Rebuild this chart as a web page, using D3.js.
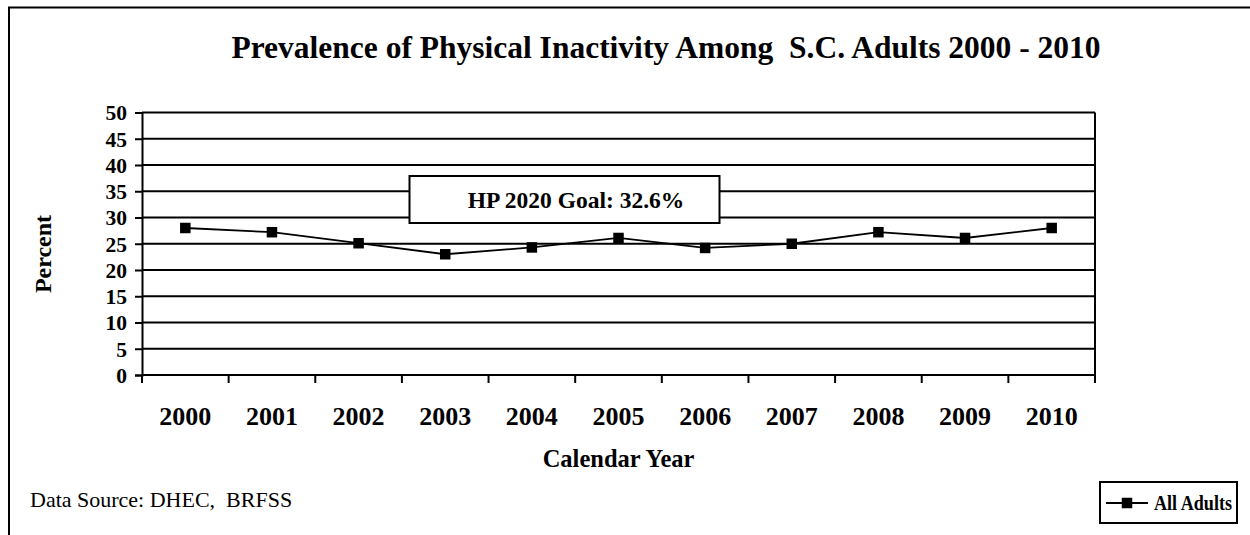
<!DOCTYPE html>
<html>
<head>
<meta charset="utf-8">
<script src="https://cdn.jsdelivr.net/npm/d3@7"></script>
<style>
  html, body { margin: 0; padding: 0; background: #fff; }
  svg { display: block; }
  text { font-family: "Liberation Serif", "Times New Roman", serif; fill: #000; }
</style>
</head>
<body>
<script>
// Physical inactivity among South Carolina adults, BRFSS
const years = ["2000", "2001", "2002", "2003", "2004", "2005", "2006", "2007", "2008", "2009", "2010"];
const allAdults = [28.0, 27.2, 25.1, 23.0, 24.3, 26.1, 24.2, 25.0, 27.2, 26.1, 28.0];
const yTicks = [0, 5, 10, 15, 20, 25, 30, 35, 40, 45, 50];

const titleText = "Prevalence of Physical Inactivity Among  S.C. Adults 2000 - 2010";
const goalText = "HP 2020 Goal: 32.6%";
const sourceText = "Data Source: DHEC,  BRFSS";
const seriesName = "All Adults";

const W = 1250, H = 535;
const plot = { left: 142, right: 1095, top: 112.5, bottom: 375 };

const svg = d3.select("body").append("svg")
  .attr("width", W).attr("height", H);

// outer chart frame (runs off the right and bottom edges)
svg.append("rect")
  .attr("x", 9).attr("y", 7.5)
  .attr("width", 1400).attr("height", 700)
  .attr("fill", "none").attr("stroke", "#000").attr("stroke-width", 2);

const x = d3.scaleBand().domain(years).range([plot.left, plot.right]);
const y = d3.scaleLinear().domain([0, 50]).range([plot.bottom, plot.top]);

// title
svg.append("text")
  .attr("x", 666).attr("y", 58)
  .attr("text-anchor", "middle")
  .style("font-size", "31.5px").style("font-weight", "bold")
  .style("white-space", "pre")
  .text(titleText);

// horizontal gridlines
svg.append("g").selectAll("line")
  .data(yTicks.filter(d => d > 0))
  .join("line")
  .attr("x1", plot.left).attr("x2", plot.right)
  .attr("y1", d => y(d)).attr("y2", d => y(d))
  .attr("stroke", "#000").attr("stroke-width", 2);

// right border of the plot area
svg.append("line")
  .attr("x1", plot.right).attr("x2", plot.right)
  .attr("y1", plot.top).attr("y2", plot.bottom)
  .attr("stroke", "#000").attr("stroke-width", 2);

// y axis
const yAxis = d3.axisLeft(y).tickValues(yTicks).tickSize(7).tickPadding(8).tickFormat(d3.format("d"));
const gy = svg.append("g").attr("transform", `translate(${plot.left},0)`).call(yAxis);
gy.select(".domain").attr("stroke", "#000").attr("stroke-width", 2);
gy.selectAll(".tick line").attr("stroke", "#000").attr("stroke-width", 2);
gy.selectAll(".tick text")
  .style("font-size", "21.5px").style("font-weight", "bold")
  .style("font-family", "'Liberation Serif', serif")
  .attr("dy", "0.34em");

// x axis: ticks sit on category boundaries
const gx = svg.append("g").attr("transform", `translate(0,${plot.bottom})`);
gx.append("line")
  .attr("x1", plot.left).attr("x2", plot.right)
  .attr("y1", 0).attr("y2", 0)
  .attr("stroke", "#000").attr("stroke-width", 2);
const boundaries = years.map(d => x(d)).concat([x(years[years.length - 1]) + x.bandwidth()]);
gx.selectAll("line.tk")
  .data(boundaries)
  .join("line").attr("class", "tk")
  .attr("x1", d => d).attr("x2", d => d)
  .attr("y1", 0).attr("y2", 8)
  .attr("stroke", "#000").attr("stroke-width", 2);
gx.selectAll("text")
  .data(years)
  .join("text")
  .attr("x", d => x(d) + x.bandwidth() / 2)
  .attr("y", 50)
  .attr("text-anchor", "middle")
  .style("font-size", "26px").style("font-weight", "bold")
  .text(d => d);

// axis titles
svg.append("text")
  .attr("x", (plot.left + plot.right) / 2).attr("y", 467)
  .attr("text-anchor", "middle")
  .style("font-size", "24.5px").style("font-weight", "bold")
  .text("Calendar Year");

svg.append("text")
  .attr("transform", "translate(51,254) rotate(-90)")
  .attr("text-anchor", "middle")
  .style("font-size", "24px").style("font-weight", "bold")
  .text("Percent");

// goal annotation box
const goal = svg.append("g");
goal.append("rect")
  .attr("x", 409.5).attr("y", 176)
  .attr("width", 310).attr("height", 47)
  .attr("fill", "#fff").attr("stroke", "#000").attr("stroke-width", 2);
goal.append("text")
  .attr("x", 576).attr("y", 208)
  .attr("text-anchor", "middle")
  .style("font-size", "23.5px").style("font-weight", "bold")
  .text(goalText);

// series line and markers
const line = d3.line()
  .x((d, i) => x(years[i]) + x.bandwidth() / 2)
  .y(d => y(d));
svg.append("path")
  .datum(allAdults)
  .attr("d", line)
  .attr("fill", "none").attr("stroke", "#000").attr("stroke-width", 1.8);

const ms = 10.5;
svg.append("g").selectAll("rect")
  .data(allAdults)
  .join("rect")
  .attr("x", (d, i) => x(years[i]) + x.bandwidth() / 2 - ms / 2)
  .attr("y", d => y(d) - ms / 2)
  .attr("width", ms).attr("height", ms)
  .attr("fill", "#000");

// data source note
svg.append("text")
  .attr("x", 30).attr("y", 507)
  .style("font-size", "22px")
  .style("white-space", "pre")
  .text(sourceText);

// legend
const lg = svg.append("g");
lg.append("rect")
  .attr("x", 1100).attr("y", 482)
  .attr("width", 137).attr("height", 41)
  .attr("fill", "#fff").attr("stroke", "#000").attr("stroke-width", 2);
lg.append("line")
  .attr("x1", 1106).attr("x2", 1148)
  .attr("y1", 503).attr("y2", 503)
  .attr("stroke", "#000").attr("stroke-width", 1.8);
lg.append("rect")
  .attr("x", 1127 - ms / 2).attr("y", 503 - ms / 2)
  .attr("width", ms).attr("height", ms)
  .attr("fill", "#000");
lg.append("text")
  .attr("x", 1154).attr("y", 510)
  .attr("textLength", 78).attr("lengthAdjust", "spacingAndGlyphs")
  .style("font-size", "20px").style("font-weight", "bold")
  .text(seriesName);
</script>
</body>
</html>
